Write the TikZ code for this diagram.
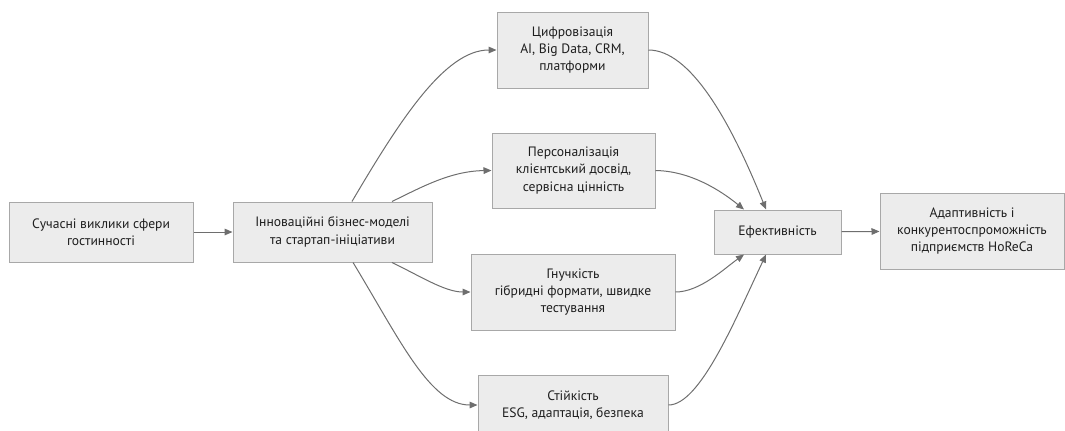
\documentclass[tikz,border=0pt]{standalone}
\usepackage{fontspec}
\setmainfont{PT Sans}
\usetikzlibrary{arrows.meta}
\definecolor{boxfill}{HTML}{ECECEC}
\definecolor{boxline}{HTML}{A8A8A8}
\definecolor{edgec}{HTML}{6E6E6E}
\definecolor{txt}{HTML}{1E1E1E}
\begin{document}
\begin{tikzpicture}[x=0.75pt,y=-0.75pt,
  box/.style={draw=boxline,fill=boxfill,line width=0.75pt,align=center,text=txt,
    font=\fontsize{10.2}{13}\selectfont,inner sep=0pt},
  edge/.style={draw=edgec,line width=0.75pt,-{Triangle[length=6pt,width=5pt]}}]
\clip (0,0) rectangle (1065,430);
\node[box,minimum width=138pt,minimum height=45pt] (a) at (101,232) {Сучасні виклики сфери\\гостинності};
\node[box,minimum width=149.25pt,minimum height=45pt] (b) at (332.5,232) {Інноваційні бізнес-моделі\\та стартап-ініціативи};
\node[box,minimum width=113.25pt,minimum height=57pt] (c) at (572.5,50) {Цифровізація\\AI, Big Data, CRM,\\платформи};
\node[box,minimum width=122.25pt,minimum height=56.25pt] (d) at (573.5,170.5) {Персоналізація\\клієнтський досвід,\\сервісна цінність};
\node[box,minimum width=153pt,minimum height=57pt] (e) at (573,292) {Гнучкість\\гібридні формати, швидке\\тестування};
\node[box,minimum width=142.5pt,minimum height=45pt] (f) at (573,405) {Стійкість\\ESG, адаптація, безпека};
\node[box,minimum width=95.25pt,minimum height=33pt] (g) at (777.5,232) {Ефективність};
\node[box,minimum width=138pt,minimum height=57pt] (h) at (972,231) {Адаптивність і\\конкурентоспроможність\\підприємств HoReCa};
\draw[edge] (a) -- (b);
\draw[edge] ([xshift=14.6pt]b.north) .. controls (400,120) and (445,50) .. (c.west);
\draw[edge] ([xshift=44.6pt]b.north) .. controls (420,188) and (450,171) .. (d.west);
\draw[edge] ([xshift=44.6pt]b.south) .. controls (420,276) and (445,292) .. (e.west);
\draw[edge] ([xshift=15.4pt]b.south) .. controls (400,340) and (430,405) .. (f.west);
\draw[edge] (c.east) .. controls (690,50) and (730,120) .. ([xshift=-8.6pt]g.north);
\draw[edge] (d.east) .. controls (690,171) and (720,190) .. ([xshift=-25.1pt]g.north);
\draw[edge] (e.east) .. controls (700,292) and (725,268) .. ([xshift=-25.1pt]g.south);
\draw[edge] (f.east) .. controls (700,405) and (735,320) .. ([xshift=-8.6pt]g.south);
\draw[edge] (g) -- (h);
\end{tikzpicture}
\end{document}
